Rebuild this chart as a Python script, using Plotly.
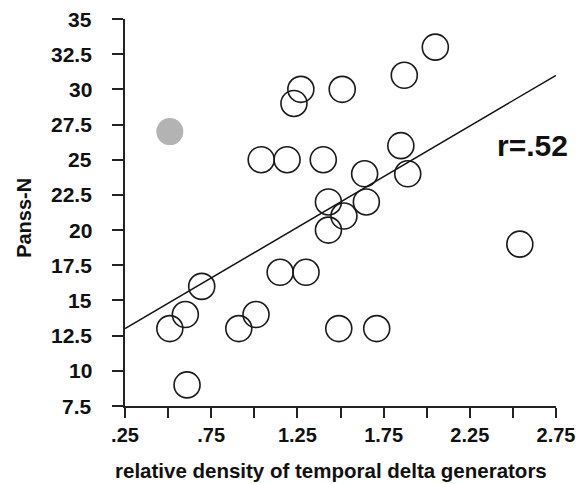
import plotly.graph_objects as go

# open circles: relative density vs Panss-N
density = [0.51, 0.60, 0.61, 0.695, 0.91, 1.01, 1.04, 1.19, 1.15, 1.30, 1.23, 1.27, 1.51,
           1.40, 1.43, 1.43, 1.52, 1.49, 1.71, 1.65, 1.64, 1.85, 1.89, 1.87, 2.05, 2.54]
panss_n = [13, 14, 9, 16, 13, 14, 25, 25, 17, 17, 29, 30, 30,
           25, 22, 20, 21, 13, 13, 22, 24, 26, 24, 31, 33, 19]

# grey (excluded) subject
grey_x = [0.51]
grey_y = [27]

# regression line end points
fit_x = [0.25, 2.75]
fit_y = [13, 31]

x_ticks = [0.25, 0.5, 0.75, 1.0, 1.25, 1.5, 1.75, 2.0, 2.25, 2.5, 2.75]
x_labels = [".25", "", ".75", "", "1.25", "", "1.75", "", "2.25", "", "2.75"]
y_ticks = [7.5, 10, 12.5, 15, 17.5, 20, 22.5, 25, 27.5, 30, 32.5, 35]
y_labels = ["7.5", "10", "12.5", "15", "17.5", "20", "22.5", "25", "27.5", "30", "32.5", "35"]

FONT = "Liberation Sans, Arial, sans-serif"
INK = "#111111"

fig = go.Figure()

fig.add_trace(go.Scatter(
    x=fit_x, y=fit_y, mode="lines",
    line=dict(color=INK, width=1.5),
    showlegend=False, hoverinfo="skip",
))

fig.add_trace(go.Scatter(
    x=grey_x, y=grey_y, mode="markers",
    marker=dict(size=27, color="#b3b3b3", line=dict(width=0)),
    showlegend=False,
))

fig.add_trace(go.Scatter(
    x=density, y=panss_n, mode="markers",
    marker=dict(symbol="circle-open", size=26, color="#1a1a1a", line=dict(width=1.6)),
    showlegend=False,
))

fig.update_xaxes(
    range=[0.25, 2.75], tickmode="array", tickvals=x_ticks, ticktext=x_labels,
    showgrid=False, zeroline=False, showline=True, automargin=False,
    linecolor="#222222", linewidth=2,
    ticks="outside", tickcolor="#222222", tickwidth=2, ticklen=10,
    tickfont=dict(family=FONT, size=20, color=INK, weight="bold"),
)
# y axis: line and tick marks; labels are added as annotations below
fig.update_yaxes(
    range=[7.5, 35], tickmode="array", tickvals=y_ticks, showticklabels=False,
    showgrid=False, zeroline=False, showline=True, automargin=False,
    linecolor="#222222", linewidth=2,
    ticks="outside", tickcolor="#222222", tickwidth=2, ticklen=11,
)

for val, lab in zip(y_ticks, y_labels):
    fig.add_annotation(
        text=lab, xref="paper", yref="y", x=-0.072, y=val,
        xanchor="right", yanchor="middle", showarrow=False,
        font=dict(family=FONT, size=21, color=INK, weight="bold"),
    )

# axis titles and r value
fig.add_annotation(
    text="relative density of temporal delta generators",
    xref="paper", yref="paper", x=0.478, y=-0.167,
    xanchor="center", yanchor="middle", showarrow=False,
    font=dict(family=FONT, size=20.5, color=INK, weight="bold"),
)
fig.add_annotation(
    text="Panss-N", textangle=-90,
    xref="paper", yref="paper", x=-0.2345, y=0.486,
    xanchor="center", yanchor="middle", showarrow=False,
    font=dict(family=FONT, size=20, color=INK, weight="bold"),
)
fig.add_annotation(
    text="r=.52",
    xref="paper", yref="paper", x=0.945, y=0.673,
    xanchor="center", yanchor="middle", showarrow=False,
    font=dict(family=FONT, size=30, color=INK, weight="bold"),
)

fig.update_layout(
    width=583, height=484,
    margin=dict(l=125, r=27, t=19, b=78),
    paper_bgcolor="white", plot_bgcolor="white",
)

fig.write_html(
    "out.html",
    config={"displayModeBar": False},
    post_script="document.body.style.margin='0';",
)
